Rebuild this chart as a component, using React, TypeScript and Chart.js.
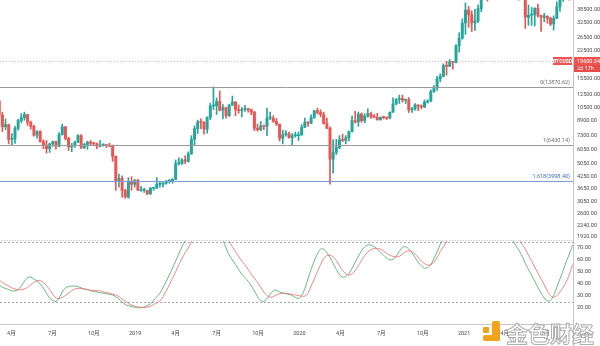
import React, { useEffect, useRef } from "react";
import { Chart, registerables } from "chart.js";
Chart.register(...registerables);

// ---------- data ----------
const START_DATE = "2018-03-05"; // Monday of first weekly bar
const opens = [11500,9550,8200,8450,6950,7000,8050,8900,9250,9650,8700,8250,7350,7700,6750,6450,6150,6550,6750,6350,7400,8200,7050,6300,6400,6700,7300,6250,6500,6700,6600,6550,6350,6450,6450,6400,6350,5550,4000,4150,3550,3250,3950,3850,4050,3550,3550,3550,3400,3650,3650,3850,3850,3900,4000,4000,4100,5050,5050,5300,5200,5750,6950,8000,8750,8700,7950,9300,10800,10800,11450,10200,10550,9500,10900,11350,10300,10150,10300,10350,10300,9950,8050,7900,8300,8250,9200,9200,8800,8500,7050,7400,7500,7100,7300,7300,7350,8150,8700,8600,9300,10150,9900,9650,8550,8050,5350,5850,6250,6900,6850,7100,7700,8900,8750,9700,8900,9450,9750,9350,9300,9000,9300,9250,9200,9950,11100,11750,11900,11650,11700,10250,10350,10950,10750,10650,11350,11500,13050,13750,15450,15950,18400,18200,19350,19150,23850,26400,32200,38150,36000,32250,33100,38900,47200,57500,45200,51200,59000,57350,55800,57050,59800,56250,49050,57800,58250,46400,34700,35700,35800,39100,35600,34700,35300,34250,31800,34300,39850,43800,47050,49300,48900];
const highs = [11700,9950,9100,8500,7500,8250,9050,9750,9950,9650,8850,8400,7800,7800,6900,6850,6600,6800,6800,7600,8500,8250,7150,6600,6800,7400,7400,6600,6800,6850,6700,6650,6850,6550,6500,6600,6450,5600,4400,4300,3600,4200,4250,4100,4100,3750,3650,3550,3700,3700,4200,3950,3950,4050,4100,4150,5300,5450,5400,5600,5900,7300,8300,8950,9100,8800,9350,11200,13880,12000,13150,11000,10650,11050,12300,11450,10950,10600,10900,10450,10350,10050,8500,8800,8400,10450,9950,9500,9150,8500,7850,7800,7650,7500,7650,7650,8450,9200,8800,9600,10150,10500,10250,9950,9200,8200,6900,6950,7300,7450,7300,7750,9450,10050,9950,9850,9750,10400,9950,9650,9800,9350,9450,9350,9950,12000,11900,12450,12450,11800,12050,10600,11150,10950,10950,11700,11750,13350,14100,15950,16500,18800,19450,19900,19400,24250,28400,34000,41950,40100,37850,38500,40950,49700,58350,57500,52500,61800,61200,57900,60200,61300,64900,57200,58450,59500,59600,46600,40800,39500,39400,41300,35750,36600,35300,34700,35400,42600,45300,48150,49450,50500,50500];
const lows = [8400,7700,7900,6550,6450,6600,7850,8650,8950,8350,7950,7250,7050,6700,6150,5800,5850,6350,6100,6300,7350,6900,6000,5900,6250,6650,6150,6150,6100,6450,6500,6150,6300,6350,6250,6300,5200,3550,3700,3250,3200,3200,3550,3700,3550,3500,3450,3350,3350,3550,3650,3700,3700,3850,3900,3900,4100,4950,5000,5050,5150,5700,6400,7500,8000,7450,7550,9000,10300,9650,10100,9100,9200,9400,10900,9500,9800,9350,10050,9950,9600,7800,7750,7800,7900,7300,9000,8700,8350,6800,6550,7250,7050,6450,7150,6850,7350,8100,8250,8550,9150,9700,9350,8500,8000,3850,4450,5700,6150,6750,6550,6800,7650,8600,8250,8700,8650,9300,9150,9250,8950,8950,9100,9000,9100,9900,10950,11150,11350,11150,9900,9900,10200,10150,10400,10550,11200,11400,12900,13250,14850,15800,16200,18100,17550,19000,21900,26000,27700,30400,28800,29200,32300,37400,46600,43000,44950,49300,53300,50400,55500,55500,51000,47150,47400,52950,43850,30000,31200,31200,31000,34800,28800,32700,32100,31100,29300,34000,37500,42800,43950,46400,46500];
const closes = [9550,8200,8450,6950,7000,8050,8900,9250,9650,8700,8250,7350,7700,6750,6450,6150,6550,6750,6350,7400,8200,7050,6300,6400,6700,7300,6250,6500,6700,6600,6550,6350,6450,6450,6400,6350,5550,4000,4150,3550,3250,3950,3850,4050,3550,3550,3550,3400,3650,3650,3850,3850,3900,4000,4000,4100,5050,5050,5300,5200,5750,6950,8000,8750,8700,7950,9300,10800,10800,11450,10200,10550,9500,10900,11350,10300,10150,10300,10350,10300,9950,8050,7900,8300,8250,9200,9200,8800,8500,7050,7400,7500,7100,7300,7300,7350,8150,8700,8600,9300,10150,9900,9650,8550,8050,5350,5850,6250,6900,6850,7100,7700,8900,8750,9700,8900,9450,9750,9350,9300,9000,9300,9250,9200,9950,11100,11750,11900,11650,11700,10250,10350,10950,10750,10650,11350,11500,13050,13750,15450,15950,18400,18200,19350,19150,23850,26400,32200,38150,36000,32250,33100,38900,47200,57500,45200,51200,59000,57350,55800,57050,59800,56250,49050,57800,58250,46400,34700,35700,35800,39100,35600,34700,35300,34250,31800,34300,39850,43800,47050,49300,48900,49900];

// Stoch RSI (weekly), %K and %D
const stochK = [39,37,36,35,34,34,35,38,42,45,45.5,44,42,40,36,32,28,26,25,28,33,36.5,37.5,38,38,37.5,36.5,35.5,35,34,33.5,33,32.5,32,31.5,31,30.5,29,27,24.5,22.5,21.5,20.8,20.2,19.8,19.8,20.5,21.5,23,26,29,32,37,42,47.5,53,59,65,71,76,82,88,95,100,100,100,100,98,95,90,84,77,70,64,60,56,52,48,45,42,38,34,29,26,25,27.5,31,34,34.5,33,32,31.5,31,30,28.5,27.5,30,36,44,52,59,65,69,69,66,62,57,52,47.5,45.5,46,48.5,53,58,63,67.5,71,72.5,72.5,71,69,66.5,64,61.5,60,60.5,63,67,70.5,71,69,66,62,58,55,53,53.5,56,61,67,73,79,85,92,97,100,100,100,100,100,100,100,100,100,100,100,100,100,100,97,93,87,81,76.5,72,68,63,57,52,47,42,37,32,28,25.5,26,30,37,44,51,58.5,65,72.5];
const stochD = [43,41,39.5,38,36.5,35.5,35,35,35.5,37,39,41,42.5,42.5,41,38.5,35,31,28,27.5,28.5,30,32,34,35.5,36,36,35.5,35,34.5,34.5,34,34,33,32.5,32,31,30.5,29,27,25.5,23.5,22,21,20.6,20.2,20,20.2,21,22.5,24,25.5,29,34,39,44.5,50,56,61,66,70,75,80,85,92,97,100,100,98,95,90,85,80,76,71,67,63,59,56,52,48,44.5,41,37,33,30,28.6,29,30.5,31.5,32,32,31.5,31,30.5,30,29.5,29.5,32,38,44,50,56,61,63.5,64,62.5,59.5,55,51,48.5,47.3,48,51,55,59.5,63.5,66.5,68.5,69.5,69.7,69,67.5,65.5,64,63,62.5,63,65,67,67.5,67,65,62,59,57,55.7,56,58,62,67,71,75,79,85,92,97,100,100,100,100,100,100,100,100,100,100,100,100,100,100,97,92,87,82,77,73,69,64,59,54,49,44,39,34,30,28.6,30,33,37,41.7,48,56];

const priceTicks = [1920, 2240, 2600, 3050, 3650, 4250, 5050, 6050, 7300, 8900, 10500, 12500, 15500, 22500, 26500, 32500, 38500];
const stochTicks = [20, 30, 40, 50, 60, 70];
const stochBands = [75, 25];
const xTickDates = ["2018-04-01","2018-07-01","2018-10-01","2019-01-01","2019-04-01","2019-07-01","2019-10-01","2020-01-01","2020-04-01","2020-07-01","2020-10-01","2021-01-01","2021-04-01","2021-07-01"];
const xTickLabels = ["4月","7月","10月","2019","4月","7月","10月","2020","4月","7月","10月","2021","4月","7月"];
const fibRatios = ["0", "1", "1.618"];
const fibPrices = [13870.62, 6430.14, 3998.40];
const symbolName = "BTCUSD";
const lastPrice = 19600.64;
const countdown = "2d 17h";
const watermark = "金色财经";

// ---------- layout ----------
const W = 600;
const H_PRICE = 240;
const H_LOWER = 106;
const AXIS_W = 27;
const X_AXIS_H = 22;
const X_MIN = 0.24;
const X_MAX = 182.14;
const PRICE_MIN = 1846;
const PRICE_MAX = 43600;
const STOCH_MIN = 6.1;
const STOCH_MAX = 76.7;
const FONT = "Roboto, 'Noto Sans CJK SC', 'DejaVu Sans', sans-serif";
const UP = "#26a69a";
const DOWN = "#ef5350";

const DAY = 86400000;
const weekIndex = (d: string) => (Date.parse(d) - Date.parse(START_DATE)) / (7 * DAY);

const fitRight = (s: any) => {
  s.width = AXIS_W;
  s.paddingTop = 0;
  s.paddingBottom = 0;
};

export default function App() {
  const priceRef = useRef<HTMLCanvasElement>(null);
  const lowerRef = useRef<HTMLCanvasElement>(null);

  useEffect(() => {
    const colors = opens.map((o, i) => (closes[i] >= o ? UP : DOWN));
    const wickData = opens.map((_, i) => ({ x: i, y: [lows[i], highs[i]] }));
    const bodyData = opens.map((o, i) => ({ x: i, y: [o, closes[i]] }));

    const priceOverlay = {
      id: "priceOverlay",
      beforeDatasetsDraw(chart: any) {
        const { ctx, chartArea, scales } = chart;
        const py = Math.round(scales.y.getPixelForValue(lastPrice)) + 0.5;
        ctx.save();
        ctx.strokeStyle = "rgba(239,83,80,0.45)";
        ctx.setLineDash([1, 2]);
        ctx.lineWidth = 1;
        ctx.beginPath();
        ctx.moveTo(chartArea.left, py);
        ctx.lineTo(chartArea.right, py);
        ctx.stroke();
        ctx.restore();
      },
      afterDatasetsDraw(chart: any) {
        const { ctx, chartArea, scales } = chart;
        ctx.save();
        fibPrices.forEach((p, k) => {
          const py = Math.round(scales.y.getPixelForValue(p)) + 0.5;
          const col = k === 2 ? "#7f98d8" : "#9a9a9a";
          ctx.strokeStyle = col;
          ctx.lineWidth = 1;
          ctx.beginPath();
          ctx.moveTo(chartArea.left, py);
          ctx.lineTo(chartArea.right, py);
          ctx.stroke();
          ctx.font = `5.5px ${FONT}`;
          ctx.fillStyle = k === 2 ? "#3f6bd0" : "#707070";
          ctx.textAlign = "right";
          ctx.textBaseline = "bottom";
          ctx.fillText(`${fibRatios[k]}(${p.toFixed(2)})`, chartArea.right - 3, py - 2);
        });
        ctx.restore();
      },
      afterDraw(chart: any) {
        const { ctx, chartArea, scales } = chart;
        const py = Math.round(scales.y.getPixelForValue(lastPrice));
        ctx.save();
        ctx.fillStyle = "#ef5350";
        ctx.fillRect(chartArea.right - 20, py - 4, 19, 8);
        ctx.fillRect(chartArea.right + 1, py - 4, AXIS_W - 1, 8);
        ctx.fillStyle = "#e74c4a";
        ctx.fillRect(chartArea.right + 1, py + 4, AXIS_W - 1, 7);
        ctx.fillStyle = "#ffffff";
        ctx.font = `bold 5px ${FONT}`;
        ctx.textBaseline = "middle";
        ctx.textAlign = "center";
        ctx.fillText(symbolName, chartArea.right - 10.5, py + 0.5);
        ctx.textAlign = "left";
        ctx.font = `5.5px ${FONT}`;
        ctx.fillText(lastPrice.toFixed(2), chartArea.right + 4, py + 0.5);
        ctx.fillText(countdown, chartArea.right + 4, py + 7.5);
        ctx.restore();
      },
    };

    const priceChart = new Chart(priceRef.current!, {
      type: "bar",
      data: {
        datasets: [
          {
            data: wickData as any,
            backgroundColor: colors,
            barThickness: 1,
            grouped: false,
            minBarLength: 1,
          } as any,
          {
            data: bodyData as any,
            backgroundColor: colors,
            barThickness: 2.3,
            grouped: false,
            minBarLength: 1,
          } as any,
        ],
      },
      options: {
        animation: false,
        responsive: false,
        maintainAspectRatio: false,
        layout: { padding: 0 },
        plugins: { legend: { display: false }, tooltip: { enabled: false } },
        scales: {
          x: { type: "linear", min: X_MIN, max: X_MAX, offset: false, display: false },
          y: {
            type: "logarithmic",
            position: "right",
            min: PRICE_MIN,
            max: PRICE_MAX,
            afterBuildTicks: (s: any) => {
              s.ticks = priceTicks.map((v) => ({ value: v }));
            },
            afterFit: fitRight,
            grid: { display: false, drawTicks: false },
            border: { display: true, color: "#c4c6cc" },
            ticks: {
              autoSkip: false,
              padding: 4,
              color: "#4a4a4a",
              font: { size: 5.5, family: FONT },
              callback: (v: any) => Number(v).toFixed(2),
            },
          } as any,
        },
      },
      plugins: [priceOverlay],
    });

    const lowerOverlay = {
      id: "lowerOverlay",
      beforeDatasetsDraw(chart: any) {
        const { ctx, chartArea, scales } = chart;
        ctx.save();
        ctx.strokeStyle = "#a8a8a8";
        ctx.setLineDash([2, 2]);
        ctx.lineWidth = 1;
        stochBands.forEach((b) => {
          const py = Math.round(scales.y.getPixelForValue(b)) + 0.5;
          ctx.beginPath();
          ctx.moveTo(chartArea.left, py);
          ctx.lineTo(chartArea.right, py);
          ctx.stroke();
        });
        ctx.restore();
      },
      afterDraw(chart: any) {
        const { ctx, chartArea, height } = chart;
        ctx.save();
        ctx.strokeStyle = "#c4c6cc";
        ctx.lineWidth = 1;
        ctx.beginPath();
        ctx.moveTo(chartArea.right + 0.5, 0);
        ctx.lineTo(chartArea.right + 0.5, height);
        ctx.stroke();
        ctx.beginPath();
        ctx.moveTo(0, 0.5);
        ctx.lineTo(chartArea.right, 0.5);
        ctx.strokeStyle = "#e3e4e8";
        ctx.stroke();
        ctx.fillStyle = "#555";
        ctx.font = `9px 'DejaVu Sans', sans-serif`;
        ctx.textAlign = "center";
        ctx.textBaseline = "middle";
        ctx.fillText("⌂", chartArea.right + AXIS_W / 2, chartArea.bottom + X_AXIS_H / 2);
        ctx.restore();
      },
    };

    const xs = stochK.map((_, i) => i);
    const lowerChart = new Chart(lowerRef.current!, {
      type: "line",
      data: {
        datasets: [
          {
            data: stochD.map((v, i) => ({ x: xs[i], y: v })),
            borderColor: "rgba(240,105,105,0.8)",
            borderWidth: 1,
            pointRadius: 0,
            tension: 0.4,
            fill: false,
          },
          {
            data: stochK.map((v, i) => ({ x: xs[i], y: v })),
            borderColor: "rgba(80,172,110,0.85)",
            borderWidth: 1,
            pointRadius: 0,
            tension: 0.4,
            fill: false,
          },
        ],
      },
      options: {
        animation: false,
        responsive: false,
        maintainAspectRatio: false,
        layout: { padding: 0 },
        plugins: { legend: { display: false }, tooltip: { enabled: false } },
        scales: {
          x: {
            type: "linear",
            min: X_MIN,
            max: X_MAX,
            offset: false,
            afterBuildTicks: (s: any) => {
              s.ticks = xTickDates.map((d) => ({ value: weekIndex(d) }));
            },
            afterFit: (s: any) => {
              s.height = X_AXIS_H;
              s.paddingLeft = 0;
              s.paddingRight = 0;
            },
            grid: { display: false, drawTicks: false },
            border: { display: true, color: "#c4c6cc" },
            ticks: {
              autoSkip: false,
              maxRotation: 0,
              padding: 6,
              color: "#4a4a4a",
              font: { size: 5.5, family: FONT },
              callback: (_v: any, idx: number) => xTickLabels[idx],
            },
          } as any,
          y: {
            type: "linear",
            position: "right",
            min: STOCH_MIN,
            max: STOCH_MAX,
            afterBuildTicks: (s: any) => {
              s.ticks = stochTicks.map((v) => ({ value: v }));
            },
            afterFit: fitRight,
            grid: { display: false, drawTicks: false },
            border: { display: true, color: "#c4c6cc" },
            ticks: {
              autoSkip: false,
              padding: 4,
              color: "#4a4a4a",
              font: { size: 5.5, family: FONT },
              callback: (v: any) => Number(v).toFixed(2),
            },
          } as any,
        },
      },
      plugins: [lowerOverlay],
    });

    return () => {
      priceChart.destroy();
      lowerChart.destroy();
    };
  }, []);

  const orange = "#f3a21b";
  return (
    <div
      style={{
        position: "fixed",
        left: 0,
        top: 0,
        width: W,
        height: H_PRICE + H_LOWER,
        background: "#ffffff",
        overflow: "hidden",
      }}
    >
      <canvas ref={priceRef} width={W} height={H_PRICE} style={{ display: "block", width: W, height: H_PRICE }} />
      <canvas ref={lowerRef} width={W} height={H_LOWER} style={{ display: "block", width: W, height: H_LOWER }} />
      <div style={{ position: "absolute", left: 483, top: 321, width: 18, height: 20, pointerEvents: "none" }}>
        <div style={{ position: "absolute", left: 0, top: 6, width: 6, height: 6, background: orange, borderRadius: 1 }} />
        <div style={{ position: "absolute", left: 9, top: 0, width: 8, height: 20, background: orange, borderRadius: 2 }} />
        <div style={{ position: "absolute", left: 0, top: 14, width: 17, height: 6, background: orange, borderRadius: 2 }} />
      </div>
      <div
        style={{
          position: "absolute",
          left: 506,
          top: 320,
          fontFamily: "'Noto Sans CJK SC', sans-serif",
          fontSize: 22,
          fontWeight: 700,
          color: "rgba(255,255,255,0.6)",
          WebkitTextStroke: "1px rgba(160,160,160,0.85)",
          lineHeight: "24px",
          whiteSpace: "nowrap",
          pointerEvents: "none",
        }}
      >
        {watermark}
      </div>
    </div>
  );
}
